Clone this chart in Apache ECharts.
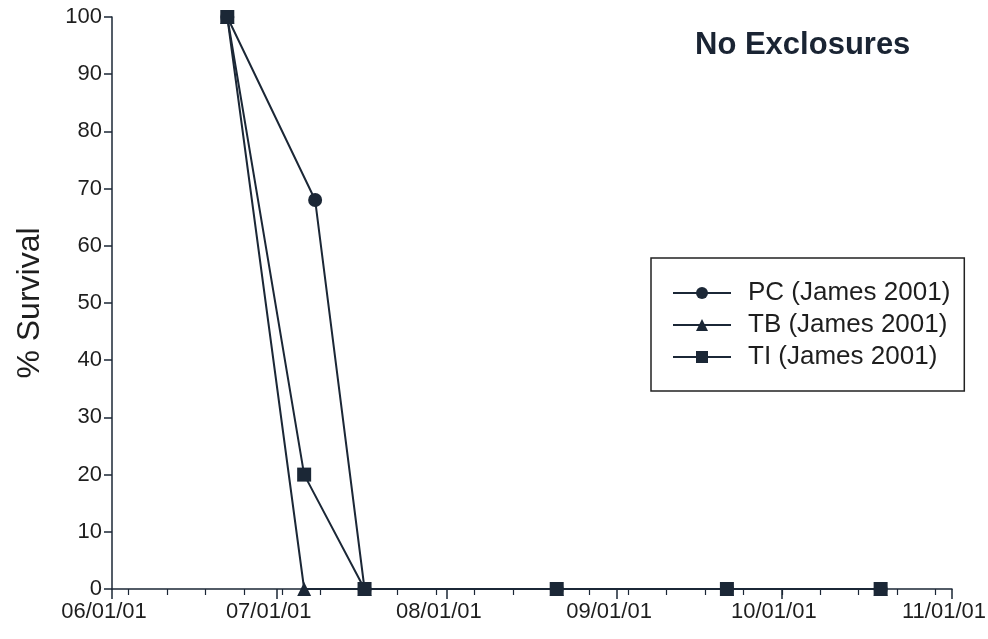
<!DOCTYPE html>
<html>
<head>
<meta charset="utf-8">
<script src="https://cdn.jsdelivr.net/npm/echarts@6/dist/echarts.min.js"></script>
<style>
html,body{margin:0;padding:0;background:#fff;}
#chart{width:988px;height:639px;}
</style>
</head>
<body>
<div id="chart"></div>
<script>
// ---- data ----
var axisStart = '2001-06-01';
var axisEnd = '2001-11-01';
var majorTickDates = ['2001-06-01','2001-07-01','2001-08-01','2001-09-01','2001-10-01','2001-11-01'];
var majorTickLabels = ['06/01/01','07/01/01','08/01/01','09/01/01','10/01/01','11/01/01'];
var pcDates = ['2001-06-22','2001-07-08','2001-07-17','2001-08-21','2001-09-21','2001-10-19'];
var pcValues = [100, 68, 0, 0, 0, 0];
var tbDates = ['2001-06-22','2001-07-06','2001-07-17','2001-08-21','2001-09-21','2001-10-19'];
var tbValues = [100, 0, 0, 0, 0, 0];
var tiDates = ['2001-06-22','2001-07-06','2001-07-17','2001-08-21','2001-09-21','2001-10-19'];
var tiValues = [100, 20, 0, 0, 0, 0];
var seriesNames = ['PC (James 2001)','TB (James 2001)','TI (James 2001)'];
var yTicks = [0,10,20,30,40,50,60,70,80,90,100];

function dayOf(s){
  var p = s.split('-');
  var d0 = Date.UTC(2001,5,1);
  return (Date.UTC(+p[0], +p[1]-1, +p[2]) - d0) / 86400000;
}
var xMin = dayOf(axisStart), xMax = dayOf(axisEnd);
var majorDays = majorTickDates.map(dayOf);
var minorDays = [];
for (var d = 3; d < xMax; d += 7) minorDays.push(d);
function pairs(ds, vs){ return ds.map(function(s,i){ return [dayOf(s), vs[i]]; }); }

var ink = '#1b2736';
var txt = '#1e1e1e';
var font = 'Liberation Sans, Arial, sans-serif';

var chart = echarts.init(document.getElementById('chart'), null, {renderer:'canvas'});
chart.setOption({
  backgroundColor:'#fff',
  animation:false,
  title:{
    text:'No Exclosures', left:690, top:25,
    textStyle:{fontFamily:font, fontSize:31, fontWeight:'bold', color:'#1a2433'}
  },
  grid:{left:112, right:36, top:17, bottom:50, containLabel:false, outerBoundsMode:'none'},
  legend:{
    orient:'vertical', left:651, top:258,
    padding:[22, 14, 21, 21],
    itemWidth:58, itemHeight:15, itemGap:6,
    borderColor:'#222', borderWidth:1.5,
    data:seriesNames,
    textStyle:{fontFamily:font, fontSize:26, color:txt, padding:[0,0,0,12]}
  },
  xAxis:[{
    type:'value', min:xMin, max:xMax, position:'bottom',
    splitLine:{show:false},
    axisLine:{show:true, onZero:false, lineStyle:{color:ink, width:1.5}},
    axisTick:{show:true, customValues:majorDays, length:10, lineStyle:{color:ink, width:1.5}},
    axisLabel:{show:true, customValues:majorDays, margin:12, fontFamily:font, fontSize:22, color:txt,
      padding:[0,16,0,0],
      formatter:function(v){ var i = majorDays.indexOf(v); return i>=0 ? majorTickLabels[i] : ''; }}
  },{
    type:'value', min:xMin, max:xMax, position:'bottom', gridIndex:0,
    splitLine:{show:false},
    axisLine:{show:false, onZero:false},
    axisTick:{show:true, customValues:minorDays, length:6, lineStyle:{color:ink, width:1.2}},
    axisLabel:{show:false}
  }],
  yAxis:{
    type:'value', min:0, max:100, interval:10,
    name:'% Survival', nameLocation:'middle', nameGap:66, nameRotate:90,
    nameTextStyle:{fontFamily:font, fontSize:32, color:txt},
    splitLine:{show:false},
    axisLine:{show:true, lineStyle:{color:ink, width:1.5}},
    axisTick:{show:true, length:8, lineStyle:{color:ink, width:1.5}},
    axisLabel:{margin:10, fontFamily:font, fontSize:22, color:txt,
      formatter:function(v){ return yTicks.indexOf(v)>=0 ? String(v) : ''; }}
  },
  series:[{
    name:seriesNames[0], type:'line', data:pairs(pcDates, pcValues),
    symbol:'circle', symbolSize:14,
    lineStyle:{color:ink, width:2}, itemStyle:{color:ink}
  },{
    name:seriesNames[1], type:'line', data:pairs(tbDates, tbValues),
    symbol:'triangle', symbolSize:14,
    lineStyle:{color:ink, width:2}, itemStyle:{color:ink}
  },{
    name:seriesNames[2], type:'line', data:pairs(tiDates, tiValues),
    symbol:'rect', symbolSize:14,
    lineStyle:{color:ink, width:2}, itemStyle:{color:ink}
  }]
});
</script>
</body>
</html>
